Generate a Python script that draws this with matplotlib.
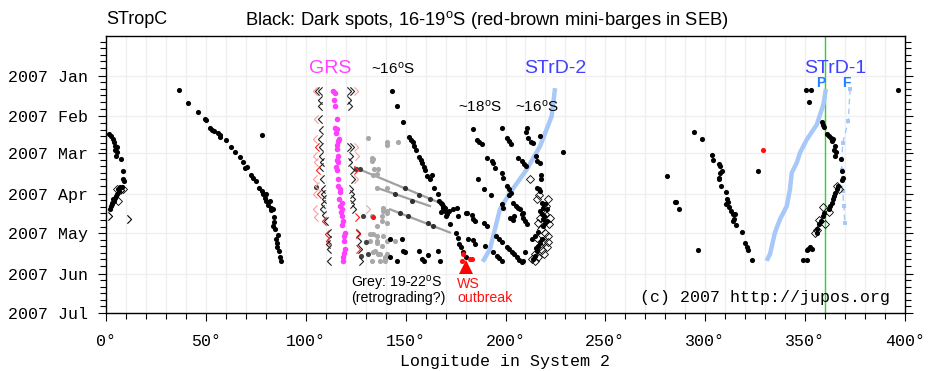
import numpy as np
import matplotlib
matplotlib.use("Agg")
import matplotlib.pyplot as plt
from matplotlib.ticker import FixedLocator, MultipleLocator
from matplotlib.path import Path

plt.rcParams['mathtext.fontset'] = 'custom'
plt.rcParams['mathtext.rm'] = 'Liberation Sans'
plt.rcParams['mathtext.it'] = 'Liberation Sans'

# ---------------- data (longitude in System 2, day of 2007: Jan 1 = 0) ----------------
month_days = [0, 31, 59, 90, 120, 151, 181]
month_labels = ['2007 Jan', '2007 Feb', '2007 Mar', '2007 Apr', '2007 May', '2007 Jun', '2007 Jul']
x_ticks = [0, 50, 100, 150, 200, 250, 300, 350, 400]
x_labels = ['0°', '50°', '100°', '150°', '200°', '250°', '300°', '350°', '400°']

# dark spots, cluster near 0-10 deg
a_lon = [1.5, 2.3, 3.3, 4.0, 4.5, 5.3, 4.3, 5.3, 4.8, 7.5, 8.5, 8.5, 8.8, 7.0, 8.0, 6.5, 5.3, 4.5, 3.7, 3.0, 2.3, 2.0, 6.0, 5.0, 4.0, 2.8]
a_day = [44.1, 46.1, 47.9, 50.2, 53.7, 54.2, 56.3, 58.3, 60.8, 63.1, 72.8, 78.6, 80.6, 84.7, 84.9, 88.0, 90.5, 93.0, 94.3, 96.8, 99.4, 101.4, 86.0, 91.5, 95.5, 98.0]
# dark spots, trail 36-88 deg
b_lon = [36.5, 40.9, 45.9, 49.7, 50.1, 52.1, 53.1, 53.9, 56.1, 57.1, 57.1, 59.9, 62.4, 64.4, 67.1, 68.6, 69.7, 70.6, 72.6, 73.6, 75.1, 76.6, 77.9, 78.4, 79.9, 79.4, 80.2, 81.9, 81.3, 82.4, 83.4, 82.6, 83.9, 84.1, 83.6, 84.6, 85.9, 85.2, 85.5, 85.7, 86.6, 87.1, 87.4, 77.9]
b_day = [10.6, 20.5, 27.4, 32.9, 34.0, 39.8, 41.1, 42.1, 43.8, 45.4, 46.4, 48.7, 54.0, 58.3, 61.6, 65.9, 70.5, 69.4, 76.0, 78.1, 80.4, 85.4, 87.7, 90.5, 90.0, 93.5, 95.8, 95.8, 98.3, 100.6, 101.9, 102.7, 107.5, 111.5, 114.6, 117.1, 121.4, 124.7, 127.8, 130.8, 133.6, 138.4, 141.4, 44.9]
# GRS
grs_lon = [113.8, 114.6, 114.2, 114.6, 115.8, 114.6, 115.5, 115.2, 116.8, 116.3, 115.8, 115.5, 116.0, 115.5, 116.0, 115.2, 115.8, 116.0, 116.3, 117.1, 117.1, 116.8, 118.0, 117.0, 118.0, 117.5, 118.3, 118.6, 118.3, 119.6, 119.2, 119.3, 119.6, 119.2, 118.8, 118.8]
grs_day = [11.9, 13.0, 18.8, 23.3, 32.7, 39.5, 40.5, 44.0, 47.9, 50.0, 53.0, 56.0, 61.4, 64.0, 66.0, 69.4, 72.0, 79.1, 84.0, 86.7, 89.0, 94.3, 97.0, 99.0, 101.9, 104.0, 107.0, 110.8, 114.0, 119.6, 122.0, 126.0, 132.3, 135.0, 138.0, 141.2]
# GRS edges (chevrons)
grs_lk_lon = [107.0, 105.8, 107.0, 107.0, 107.0, 107.5, 107.0, 107.5, 107.5, 108.0, 107.5, 108.0, 108.5, 108.5, 109.0, 108.5, 108.0, 109.0, 110.0, 111.5, 111.5, 111.0, 111.5, 111.8]
grs_lk_day = [11.9, 11.9, 18.8, 23.3, 33.0, 41.0, 48.0, 54.0, 61.0, 66.0, 69.4, 79.1, 86.7, 90.0, 94.3, 98.0, 101.9, 106.0, 110.8, 119.6, 125.0, 128.0, 132.3, 141.2]
grs_lp_lon = [104.6, 105.0, 104.8, 104.6, 105.2, 104.6, 105.4, 104.6, 104.6, 105.2]
grs_lp_day = [11.9, 33.0, 48.0, 61.0, 66.0, 79.1, 84.0, 90.0, 101.9, 108.0]
grs_lr_lon = [105.5, 106.0, 106.5, 109.0, 110.5, 111.0]
grs_lr_day = [54.0, 72.0, 90.0, 111.0, 121.0, 126.0]
grs_rk_lon = [121.5, 123.0, 121.5, 122.0, 121.5, 123.0, 122.5, 122.0, 123.0, 123.5, 122.5, 123.0, 123.5, 123.0, 124.0, 126.0, 126.5, 127.0, 127.8]
grs_rk_day = [11.9, 11.9, 18.8, 23.3, 54.0, 54.0, 61.0, 66.0, 72.0, 79.1, 86.7, 90.0, 94.3, 98.0, 101.9, 119.6, 126.0, 132.3, 141.2]
grs_rp_lon = [125.3, 125.3, 125.5, 125.3, 131.3]
grs_rp_day = [11.9, 54.0, 61.0, 79.1, 101.9]
grs_rr_lon = [125.0, 125.5, 126.0, 126.0]
grs_rr_day = [72.0, 108.0, 121.0, 132.0]
# grey spots 19-22 S
grey_lon = [131.3, 140.8, 133.0, 133.0, 134.2, 136.3, 135.5, 140.8, 138.8, 138.8, 140.8, 133.0, 138.0, 135.5, 138.0, 140.8, 132.2, 135.5, 138.8, 140.8, 132.2, 135.5, 138.0, 133.8, 137.2, 140.8, 133.0, 137.2, 139.7, 133.5, 133.5, 135.5, 140.5, 146.3, 140.5, 133.8, 135.5, 139.7, 134.7, 136.3, 139.7, 144.7]
grey_day = [47.4, 52.5, 62.6, 65.2, 71.0, 71.0, 85.4, 85.4, 100.6, 103.2, 103.2, 107.0, 107.0, 114.6, 110.8, 112.0, 120.9, 122.2, 122.2, 126.0, 126.0, 127.2, 129.8, 134.8, 136.1, 136.1, 141.2, 141.2, 139.9, 63.6, 75.3, 75.0, 50.2, 50.2, 104.4, 120.9, 126.0, 138.6, 133.6, 136.1, 141.2, 126.0]
dgrey_lon = [105.1, 125.2, 127.2, 128.8, 130.2, 131.0, 127.8]
dgrey_day = [84.7, 71.0, 71.0, 107.0, 126.6, 136.1, 137.3]
# retrograding grey tracks
trk1_lon = [124.7, 167.2]
trk1_day = [70.0, 97.0]
trk2_lon = [135.5, 162.2]
trk2_day = [85.4, 99.4]
trk3_lon = [142.2, 172.2]
trk3_day = [101.9, 119.6]
trkdot_lon = [149.7, 156.8, 162.2, 144.8, 153.0, 147.2, 151.0, 161.4, 163.9]
trkdot_day = [85.4, 91.3, 94.0, 90.5, 95.6, 104.4, 107.0, 112.0, 114.6]
# main diagonal 143-181 deg
c_lon = [143.0, 145.5, 148.5, 151.8, 152.5, 153.5, 154.3, 155.0, 156.7, 157.5, 158.4, 159.2, 159.7, 160.9, 162.2, 163.2, 164.2, 166.4, 166.9, 168.0, 168.9, 169.7, 170.9, 170.2, 172.2, 173.9, 175.9, 180.6, 176.4, 175.2, 176.4, 176.9, 177.6, 178.9, 180.2, 167.5, 168.5, 169.5, 171.5, 167.8]
c_day = [11.4, 23.3, 35.0, 46.6, 48.7, 50.7, 53.8, 56.8, 61.8, 63.9, 66.4, 69.4, 71.5, 76.6, 78.6, 75.3, 85.4, 90.5, 95.6, 98.1, 100.6, 103.2, 105.7, 107.0, 113.3, 101.9, 100.6, 104.4, 107.0, 120.2, 123.4, 128.5, 131.0, 134.8, 137.9, 97.0, 99.0, 101.0, 103.0, 104.0]
d_lon = [156.9, 158.0, 159.2, 161.4, 166.4, 167.2, 148.8, 149.7, 145.5, 142.2, 148.0, 142.2]
d_day = [133.6, 139.9, 141.2, 136.6, 133.6, 141.2, 133.6, 134.8, 141.2, 138.6, 124.7, 124.7]
# spots 180-230 deg
e_lon = [183.9, 185.9, 186.9, 188.2, 198.1, 200.6, 201.9, 202.6, 210.6, 210.3, 211.4, 212.6, 213.9, 217.3, 190.6, 193.1, 193.9, 194.7, 206.4, 208.1, 209.3, 210.3, 215.3, 215.9, 217.3, 228.6, 198.1, 198.6, 186.4, 189.2, 192.6, 200.6, 201.9, 202.6, 217.6, 217.6, 215.6, 216.9, 217.3, 201.9, 198.1, 198.9, 203.9, 205.3, 206.4, 207.3, 208.6, 202.3, 203.6, 204.3, 208.1, 208.9, 209.8, 210.6, 180.2, 183.1, 183.6, 184.7, 189.2, 190.6, 181.4, 183.9, 184.7, 189.7, 195.2, 196.9, 198.1, 193.9, 195.6, 196.9, 198.1, 200.6, 201.9, 203.1, 204.3, 205.6, 206.9, 208.1, 209.8, 208.9]
e_day = [40.3, 48.7, 50.4, 52.0, 39.8, 47.4, 49.9, 51.7, 39.8, 42.8, 47.4, 50.4, 51.2, 46.2, 62.6, 65.2, 66.9, 70.7, 62.6, 65.2, 67.2, 69.0, 61.4, 65.2, 66.9, 58.3, 74.0, 77.8, 78.6, 86.2, 91.3, 84.2, 86.2, 89.2, 75.3, 79.1, 85.4, 86.2, 88.0, 91.3, 98.1, 100.6, 96.8, 99.4, 100.6, 101.9, 104.4, 108.2, 110.0, 107.0, 105.7, 108.2, 110.8, 113.3, 104.4, 106.5, 109.5, 110.8, 112.0, 114.6, 124.7, 125.2, 128.5, 129.8, 122.2, 124.7, 126.8, 134.4, 137.4, 139.4, 141.2, 130.3, 132.3, 134.1, 136.1, 138.6, 140.5, 142.0, 134.8, 141.2]
f_lon = [218.1, 218.9, 219.8, 220.6, 218.1, 218.9, 219.8, 220.6, 218.9, 214.8, 213.1, 216.4, 215.6, 214.8, 217.3, 218.1, 216.5, 217.5, 219.5, 215.5, 214.0]
f_day = [96.8, 100.6, 98.1, 101.9, 105.7, 109.5, 112.0, 110.8, 114.6, 122.2, 124.7, 129.8, 133.6, 137.4, 127.2, 124.7, 119.0, 103.0, 107.0, 131.5, 139.5]
# open diamonds (uncertain positions)
dia_lon = [212.3, 216.9, 215.6, 221.4, 217.3, 222.3, 219.8, 216.4, 221.4, 218.9, 217.3, 214.8, 213.1, 216.4, 220.5, 218.0, 220.0, 221.0, 215.0, 219.0, 222.0, 218.5, 221.5, 219.5, 216.0, 5.3, 8.5, 6.1, 359.0, 362.0, 357.0, 360.0, 356.0, 355.0, 366.0, 367.0]
dia_day = [78.6, 91.3, 94.3, 94.3, 108.2, 108.2, 105.7, 112.0, 122.2, 126.2, 129.8, 136.1, 139.9, 138.6, 99.0, 117.0, 120.0, 131.0, 141.0, 103.0, 113.0, 133.0, 127.0, 136.0, 124.0, 86.7, 86.7, 95.6, 100.0, 104.0, 110.0, 113.0, 118.0, 120.0, 84.0, 86.0]
chev_lon = [2.0, 11.3, 8.0]
chev_day = [107.0, 109.0, 87.0]
# spots 280-330 deg
h_lon = [294.4, 298.2, 303.2, 303.7, 306.7, 307.4, 308.2, 307.4, 307.0, 306.7, 307.7, 310.4, 310.7, 311.6, 310.4, 312.1, 312.7, 313.7, 314.9, 314.4, 313.7, 315.4, 318.2, 319.9, 320.7, 321.6, 323.2, 280.7, 284.9, 285.4, 286.9, 296.2, 326.2]
h_day = [43.1, 47.9, 60.6, 64.6, 67.2, 69.0, 72.8, 74.5, 77.8, 79.1, 84.2, 88.7, 94.3, 96.3, 98.1, 99.9, 103.2, 105.7, 105.7, 109.0, 110.8, 114.1, 119.1, 127.8, 130.5, 132.8, 140.7, 76.6, 96.3, 96.3, 101.9, 132.8, 72.8]
# spots 349-397 deg
i_lon = [350.4, 352.9, 351.9, 396.5, 358.3, 358.8, 359.4, 361.1, 362.1, 362.8, 363.8, 363.3, 365.0, 364.5, 365.5, 365.0, 367.8, 368.3, 368.8, 368.3, 366.6, 365.8, 365.0, 364.5, 363.8, 363.3, 362.5, 362.1, 359.4, 359.1, 357.8, 357.1, 356.1, 355.8, 351.6, 352.4, 353.3, 350.8, 349.1, 351.1]
i_day = [10.6, 10.6, 20.3, 10.6, 35.5, 37.3, 39.0, 44.1, 45.6, 47.4, 48.1, 49.9, 53.8, 56.3, 58.3, 60.8, 63.1, 72.8, 77.8, 79.6, 84.2, 86.7, 89.2, 91.8, 94.3, 96.8, 99.4, 101.9, 104.4, 107.0, 110.8, 113.3, 117.1, 119.6, 132.3, 131.0, 132.3, 133.1, 140.7, 140.7]
# red spots
red_lon = [133.5, 178.9, 178.1, 182.2, 183.1, 328.8]
red_day = [107.5, 136.1, 141.2, 139.9, 139.9, 56.3]
# STrD tracks
strd2_lon = [224.8, 223.1, 217.3, 210.6, 202.3, 197.2, 194.7, 192.2, 188.6]
strd2_day = [9.4, 30.9, 53.7, 71.5, 89.2, 101.9, 117.1, 132.3, 141.9]
strd1p_lon = [360.4, 359.1, 355.8, 350.8, 347.4, 345.8, 343.3, 342.4, 340.8, 337.4, 334.9, 332.4, 330.7]
strd1p_day = [10.1, 22.1, 37.3, 48.7, 58.8, 66.4, 74.0, 86.7, 99.4, 109.5, 119.6, 136.1, 141.2]
strd1f_lon = [372.5, 371.6, 368.8, 368.3, 368.8, 369.4, 369.9]
strd1f_day = [10.1, 34.7, 51.2, 71.5, 88.0, 99.4, 112.5]
ws_lon = [180.2]
ws_day = [146.0]

# ---------------- figure ----------------
W, H = 935, 371
fig = plt.figure(figsize=(W / 100, H / 100), dpi=100)
ax = fig.add_axes([106 / W, 1 - 313 / H, (905 - 106) / W, (313 - 36) / H])
ax.set_xlim(0, 400)
ax.set_ylim(181, -30.4)

mono = 'Liberation Mono'
sans = 'Liberation Sans'

# grid
for xv in range(10, 400, 10):
    ax.axvline(xv, color='#efefef', lw=0.9, zorder=0)
for yv in month_days:
    ax.axhline(yv, color='#efefef', lw=0.9, zorder=0)

ax.axvline(360, color='#22dd22', lw=1.0, zorder=1)

blue = '#a8c8f8'
ax.plot(strd2_lon, strd2_day, color=blue, lw=3.2, zorder=2, solid_capstyle='butt')
ax.plot(strd1p_lon, strd1p_day, color=blue, lw=3.2, zorder=2, solid_capstyle='butt')
ax.plot(strd1f_lon, strd1f_day, color=blue, lw=1.0, ls=(0, (4, 3)), marker='s', ms=3, mew=0, zorder=2)

for lo, da in [(trk1_lon, trk1_day), (trk2_lon, trk2_day), (trk3_lon, trk3_day)]:
    ax.plot(lo, da, color='#a0a0a0', lw=1.6, zorder=2)

ms = 3.7
ax.plot(grey_lon, grey_day, 'o', color='#a8a8a8', ms=ms, mew=0, zorder=3)
ax.plot(dgrey_lon, dgrey_day, 'o', color='#404040', ms=ms, mew=0, zorder=3)
ax.plot(trkdot_lon, trkdot_day, 'o', color='#303030', ms=ms, mew=0, zorder=3)
for lo, da in [(a_lon, a_day), (b_lon, b_day), (c_lon, c_day), (d_lon, d_day),
               (e_lon, e_day), (f_lon, f_day), (h_lon, h_day), (i_lon, i_day)]:
    ax.plot(lo, da, 'o', color='black', ms=ms, mew=0, zorder=4)
ax.plot(grs_lon, grs_day, 'o', color='#ff40ff', ms=ms + 0.3, mew=0, zorder=4)
ax.plot(red_lon, red_day, 'o', color='#ff1010', ms=ms, mew=0, zorder=5)
ax.plot(dia_lon, dia_day, 'D', mfc='none', mec='black', ms=4.2, mew=0.6, zorder=4)

# chevron markers
lt = Path([(0.25, 0.5), (-0.25, 0.0), (0.25, -0.5)], [Path.MOVETO, Path.LINETO, Path.LINETO])
gt = Path([(-0.25, 0.5), (0.25, 0.0), (-0.25, -0.5)], [Path.MOVETO, Path.LINETO, Path.LINETO])
cm = 6
ckw = dict(ls='none', mfc='none', ms=cm, mew=0.8, zorder=4)
ax.plot(grs_lk_lon, grs_lk_day, marker=lt, mec='#202020', **ckw)
ax.plot(grs_lp_lon, grs_lp_day, marker=lt, mec='#f8a0a0', **ckw)
ax.plot(grs_lr_lon, grs_lr_day, marker=lt, mec='#ff2020', **ckw)
ax.plot(grs_rk_lon, grs_rk_day, marker=gt, mec='#202020', **ckw)
ax.plot(grs_rp_lon, grs_rp_day, marker=gt, mec='#f8a0a0', **ckw)
ax.plot(grs_rr_lon, grs_rr_day, marker=gt, mec='#ff2020', **ckw)
ax.plot(chev_lon, chev_day, marker=gt, mec='black', **ckw)

ax.plot(ws_lon, ws_day, '^', color='#ff0000', ms=10, mew=0, zorder=5)

# ticks
ax.set_xticks(x_ticks)
ax.set_xticklabels(x_labels, fontfamily=mono, fontsize=12)
ax.xaxis.set_minor_locator(MultipleLocator(10))
ax.set_yticks(month_days)
ax.set_yticklabels(month_labels, fontfamily=mono, fontsize=12)
minor_y = [m + k for m in [-31] + month_days[:-1] for k in (5, 10, 15, 20, 25)]
ax.yaxis.set_minor_locator(FixedLocator(minor_y))
ax.tick_params(axis='x', which='major', length=6, width=0.8, direction='out', pad=9)
ax.tick_params(axis='x', which='minor', length=4, width=0.8, direction='out')
ax.tick_params(axis='y', which='major', length=6, width=0.8, direction='out', right=True, pad=7)
ax.tick_params(axis='y', which='minor', length=4, width=0.8, direction='out', right=True)
for s in ax.spines.values():
    s.set_linewidth(1.0)
ax.set_xlabel('Longitude in System 2', fontfamily=mono, fontsize=12, labelpad=4)

# texts
fig.text(106 / W, 1 - 20 / H, 'STropC', fontfamily=sans, fontsize=13, va='center', ha='left')
fig.text(487 / W, 1 - 20 / H, r'Black: Dark spots, 16-19$^{\rm o}$S (red-brown mini-barges in SEB)',
         fontfamily=sans, fontsize=13.2, va='center', ha='center')
ax.text(112.1, -5.3, 'GRS', color='#ff40ff', fontfamily=sans, fontsize=14, ha='center', va='center')
ax.text(143.7, -5.3, r'~16$^{\rm o}$S', color='black', fontfamily=sans, fontsize=11, ha='center', va='center')
ax.text(224.8, -5.3, 'STrD-2', color='#4040ff', fontfamily=sans, fontsize=14, ha='center', va='center')
ax.text(187.2, 23.6, r'~18$^{\rm o}$S', color='black', fontfamily=sans, fontsize=11, ha='center', va='center')
ax.text(215.8, 23.6, r'~16$^{\rm o}$S', color='black', fontfamily=sans, fontsize=11, ha='center', va='center')
ax.text(365.0, -5.3, 'STrD-1', color='#4040ff', fontfamily=sans, fontsize=14, ha='center', va='center')
ax.text(357.9, 5.3, 'P', color='#2080ff', fontfamily=sans, fontsize=10, fontweight='bold', ha='center', va='center')
ax.text(370.5, 5.3, 'F', color='#2080ff', fontfamily=sans, fontsize=10, fontweight='bold', ha='center', va='center')
ax.text(122.5, 158.5, r'Grey: 19-22$^{\rm o}$S', color='black', fontfamily=sans, fontsize=10.2, ha='left', va='center')
ax.text(122.5, 169.8, '(retrograding?)', color='black', fontfamily=sans, fontsize=10.2, ha='left', va='center')
ax.text(175.7, 158.5, 'WS', color='#ff1010', fontfamily=sans, fontsize=10.2, ha='left', va='center')
ax.text(175.7, 169.8, 'outbreak', color='#ff1010', fontfamily=sans, fontsize=10.2, ha='left', va='center')
ax.text(267.3, 168.8, '(c) 2007 http://jupos.org', color='black', fontfamily=mono, fontsize=12, ha='left', va='center')

fig.savefig('out.png', dpi=100)
